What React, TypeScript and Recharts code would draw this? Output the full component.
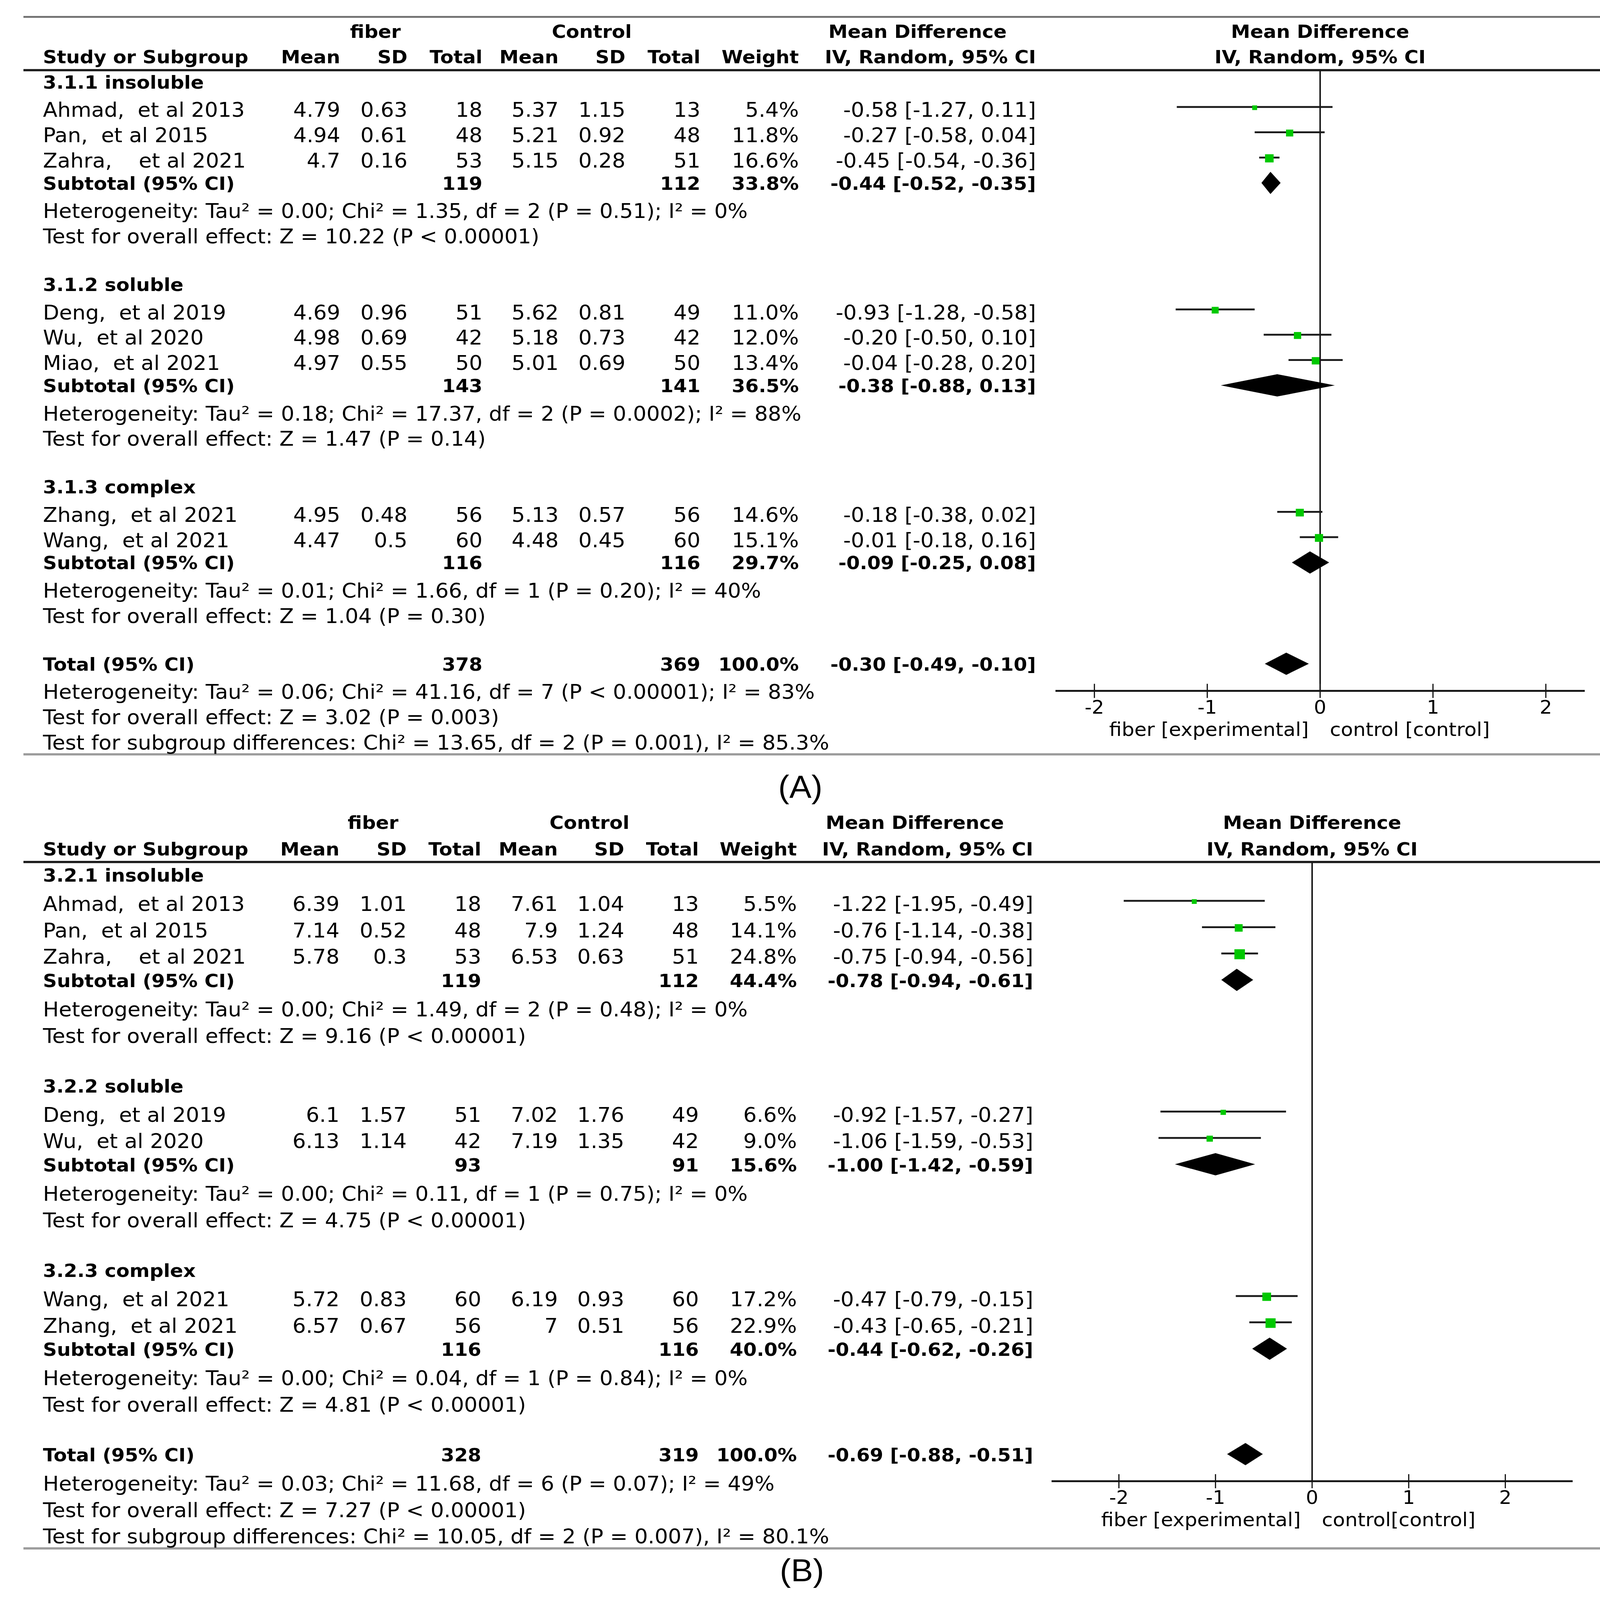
import React, { useEffect, useState } from 'react';
import { ComposedChart, XAxis, YAxis, Scatter, ErrorBar, Area, ReferenceLine } from 'recharts';

type Study = { name: string; m1: number; s1: number; n1: number; m2: number; s2: number; n2: number; w: number; md: number; lo: number; hi: number };
type Pooled = { n1: number; n2: number; w: number; md: number; lo: number; hi: number };

// ---------------- Panel A data ----------------
const A_GROUPS = ['3.1.1 insoluble', '3.1.2 soluble', '3.1.3 complex'];
const A_STUDIES: Study[][] = [
  [
    { name: 'Ahmad,  et al 2013', m1: 4.79, s1: 0.63, n1: 18, m2: 5.37, s2: 1.15, n2: 13, w: 5.4, md: -0.58, lo: -1.27, hi: 0.11 },
    { name: 'Pan,  et al 2015', m1: 4.94, s1: 0.61, n1: 48, m2: 5.21, s2: 0.92, n2: 48, w: 11.8, md: -0.27, lo: -0.58, hi: 0.04 },
    { name: 'Zahra,    et al 2021', m1: 4.7, s1: 0.16, n1: 53, m2: 5.15, s2: 0.28, n2: 51, w: 16.6, md: -0.45, lo: -0.54, hi: -0.36 },
  ],
  [
    { name: 'Deng,  et al 2019', m1: 4.69, s1: 0.96, n1: 51, m2: 5.62, s2: 0.81, n2: 49, w: 11.0, md: -0.93, lo: -1.28, hi: -0.58 },
    { name: 'Wu,  et al 2020', m1: 4.98, s1: 0.69, n1: 42, m2: 5.18, s2: 0.73, n2: 42, w: 12.0, md: -0.2, lo: -0.5, hi: 0.1 },
    { name: 'Miao,  et al 2021', m1: 4.97, s1: 0.55, n1: 50, m2: 5.01, s2: 0.69, n2: 50, w: 13.4, md: -0.04, lo: -0.28, hi: 0.2 },
  ],
  [
    { name: 'Zhang,  et al 2021', m1: 4.95, s1: 0.48, n1: 56, m2: 5.13, s2: 0.57, n2: 56, w: 14.6, md: -0.18, lo: -0.38, hi: 0.02 },
    { name: 'Wang,  et al 2021', m1: 4.47, s1: 0.5, n1: 60, m2: 4.48, s2: 0.45, n2: 60, w: 15.1, md: -0.01, lo: -0.18, hi: 0.16 },
  ],
];
const A_SUBTOTALS: Pooled[] = [
  { n1: 119, n2: 112, w: 33.8, md: -0.44, lo: -0.52, hi: -0.35 },
  { n1: 143, n2: 141, w: 36.5, md: -0.38, lo: -0.88, hi: 0.13 },
  { n1: 116, n2: 116, w: 29.7, md: -0.09, lo: -0.25, hi: 0.08 },
];
const A_HET = [
  'Heterogeneity: Tau² = 0.00; Chi² = 1.35, df = 2 (P = 0.51); I² = 0%',
  'Heterogeneity: Tau² = 0.18; Chi² = 17.37, df = 2 (P = 0.0002); I² = 88%',
  'Heterogeneity: Tau² = 0.01; Chi² = 1.66, df = 1 (P = 0.20); I² = 40%',
];
const A_EFFECT = [
  'Test for overall effect: Z = 10.22 (P < 0.00001)',
  'Test for overall effect: Z = 1.47 (P = 0.14)',
  'Test for overall effect: Z = 1.04 (P = 0.30)',
];
const A_TOTAL: Pooled = { n1: 378, n2: 369, w: 100.0, md: -0.3, lo: -0.49, hi: -0.1 };
const A_FOOT = [
  'Heterogeneity: Tau² = 0.06; Chi² = 41.16, df = 7 (P < 0.00001); I² = 83%',
  'Test for overall effect: Z = 3.02 (P = 0.003)',
  'Test for subgroup differences: Chi² = 13.65, df = 2 (P = 0.001), I² = 85.3%',
];

// ---------------- Panel B data ----------------
const B_GROUPS = ['3.2.1 insoluble', '3.2.2 soluble', '3.2.3 complex'];
const B_STUDIES: Study[][] = [
  [
    { name: 'Ahmad,  et al 2013', m1: 6.39, s1: 1.01, n1: 18, m2: 7.61, s2: 1.04, n2: 13, w: 5.5, md: -1.22, lo: -1.95, hi: -0.49 },
    { name: 'Pan,  et al 2015', m1: 7.14, s1: 0.52, n1: 48, m2: 7.9, s2: 1.24, n2: 48, w: 14.1, md: -0.76, lo: -1.14, hi: -0.38 },
    { name: 'Zahra,    et al 2021', m1: 5.78, s1: 0.3, n1: 53, m2: 6.53, s2: 0.63, n2: 51, w: 24.8, md: -0.75, lo: -0.94, hi: -0.56 },
  ],
  [
    { name: 'Deng,  et al 2019', m1: 6.1, s1: 1.57, n1: 51, m2: 7.02, s2: 1.76, n2: 49, w: 6.6, md: -0.92, lo: -1.57, hi: -0.27 },
    { name: 'Wu,  et al 2020', m1: 6.13, s1: 1.14, n1: 42, m2: 7.19, s2: 1.35, n2: 42, w: 9.0, md: -1.06, lo: -1.59, hi: -0.53 },
  ],
  [
    { name: 'Wang,  et al 2021', m1: 5.72, s1: 0.83, n1: 60, m2: 6.19, s2: 0.93, n2: 60, w: 17.2, md: -0.47, lo: -0.79, hi: -0.15 },
    { name: 'Zhang,  et al 2021', m1: 6.57, s1: 0.67, n1: 56, m2: 7, s2: 0.51, n2: 56, w: 22.9, md: -0.43, lo: -0.65, hi: -0.21 },
  ],
];
const B_SUBTOTALS: Pooled[] = [
  { n1: 119, n2: 112, w: 44.4, md: -0.78, lo: -0.94, hi: -0.61 },
  { n1: 93, n2: 91, w: 15.6, md: -1.0, lo: -1.42, hi: -0.59 },
  { n1: 116, n2: 116, w: 40.0, md: -0.44, lo: -0.62, hi: -0.26 },
];
const B_HET = [
  'Heterogeneity: Tau² = 0.00; Chi² = 1.49, df = 2 (P = 0.48); I² = 0%',
  'Heterogeneity: Tau² = 0.00; Chi² = 0.11, df = 1 (P = 0.75); I² = 0%',
  'Heterogeneity: Tau² = 0.00; Chi² = 0.04, df = 1 (P = 0.84); I² = 0%',
];
const B_EFFECT = [
  'Test for overall effect: Z = 9.16 (P < 0.00001)',
  'Test for overall effect: Z = 4.75 (P < 0.00001)',
  'Test for overall effect: Z = 4.81 (P < 0.00001)',
];
const B_TOTAL: Pooled = { n1: 328, n2: 319, w: 100.0, md: -0.69, lo: -0.88, hi: -0.51 };
const B_FOOT = [
  'Heterogeneity: Tau² = 0.03; Chi² = 11.68, df = 6 (P = 0.07); I² = 49%',
  'Test for overall effect: Z = 7.27 (P < 0.00001)',
  'Test for subgroup differences: Chi² = 10.05, df = 2 (P = 0.007), I² = 80.1%',
];

const TICKS = [-2, -1, 0, 1, 2];
const COL_HEADERS = ['Mean', 'SD', 'Total', 'Mean', 'SD', 'Total', 'Weight'];

// ---------------- layout / style ----------------
const W = 4123;
const H = 4310;
const FONT = '"DejaVu Sans", Verdana, sans-serif';
const REG = 54;
const BOLD = 49.5;
const GREEN = '#00c800';
const INK = '#000';

type PanelCfg = {
  key: string;
  groups: string[]; studies: Study[][]; subtotals: Pooled[]; het: string[]; effect: string[]; total: Pooled; foot: string[];
  chartTop: number; chartHeight: number; plotTop: number; plotBottom: number; plotLeft: number; plotRight: number; xMax: number;
  row0: number; pitch: number; regOff: number; boldOff: number; cols: number[];
  hdrFiber: number; hdrControl: number; hdrMd: number;
  topLine: number | null; underline: number; bottomLine: number;
  label: string; labelX: number; labelY: number; axisLeft: string; axisRight: string;
};

const PANELS: PanelCfg[] = [
  {
    key: 'A', groups: A_GROUPS, studies: A_STUDIES, subtotals: A_SUBTOTALS, het: A_HET, effect: A_EFFECT, total: A_TOTAL, foot: A_FOOT,
    chartTop: 0, chartHeight: 2100, plotTop: 189, plotBottom: 1861, plotLeft: 2702, plotRight: 4057, xMax: 2.345,
    row0: 220, pitch: 68.17, regOff: 26.7, boldOff: 18.4, cols: [871, 1043, 1235, 1430, 1601, 1793, 2045, 2652],
    hdrFiber: 961, hdrControl: 1515, hdrMd: 2349, topLine: 43, underline: 186, bottomLine: 2029,
    label: '(A)', labelX: 2049, labelY: 2149, axisLeft: 'fiber [experimental]', axisRight: 'control [control]',
  },
  {
    key: 'B', groups: B_GROUPS, studies: B_STUDIES, subtotals: B_SUBTOTALS, het: B_HET, effect: B_EFFECT, total: B_TOTAL, foot: B_FOOT,
    chartTop: 2150, chartHeight: 2160, plotTop: 2322, plotBottom: 3990, plotLeft: 2692, plotRight: 4026, xMax: 2.697,
    row0: 2355.6, pitch: 70.97, regOff: 27.7, boldOff: 19.5, cols: [869, 1041, 1232, 1428, 1598, 1789, 2040, 2645],
    hdrFiber: 955, hdrControl: 1509, hdrMd: 2342, topLine: null, underline: 2319, bottomLine: 4168,
    label: '(B)', labelX: 2053, labelY: 4259, axisLeft: 'fiber [experimental]', axisRight: 'control[control]',
  },
];

type Row =
  | { r: number; kind: 'title'; text: string }
  | { r: number; kind: 'study'; s: Study }
  | { r: number; kind: 'pooled'; label: string; p: Pooled }
  | { r: number; kind: 'note'; text: string };

function buildRows(p: PanelCfg): Row[] {
  const rows: Row[] = [];
  let r = 0;
  p.groups.forEach((g, gi) => {
    rows.push({ r: r++, kind: 'title', text: g });
    p.studies[gi].forEach((s) => rows.push({ r: r++, kind: 'study', s }));
    rows.push({ r: r++, kind: 'pooled', label: 'Subtotal (95% CI)', p: p.subtotals[gi] });
    rows.push({ r: r++, kind: 'note', text: p.het[gi] });
    rows.push({ r: r++, kind: 'note', text: p.effect[gi] });
    r++;
  });
  rows.push({ r: r++, kind: 'pooled', label: 'Total (95% CI)', p: p.total });
  p.foot.forEach((t) => rows.push({ r: r++, kind: 'note', text: t }));
  return rows;
}

const f2 = (v: number) => v.toFixed(2);
const ci = (md: number, lo: number, hi: number) => `${f2(md)} [${f2(lo)}, ${f2(hi)}]`;
const pct = (w: number) => `${w.toFixed(1)}%`;

const rowY = (p: PanelCfg, r: number) => p.row0 + p.pitch * r;
const zeroX = (p: PanelCfg) => p.plotLeft + ((0 + p.xMax) / (2 * p.xMax)) * (p.plotRight - p.plotLeft);

function Txt(props: { x: number; y: number; bold?: boolean; anchor?: 'start' | 'middle' | 'end'; children: React.ReactNode; size?: number }) {
  const { x, y, bold, anchor = 'start', children, size } = props;
  return (
    <text
      x={x}
      y={y}
      textAnchor={anchor}
      fontFamily={FONT}
      fontSize={size ?? (bold ? BOLD : REG)}
      fontWeight={bold ? 'bold' : 'normal'}
      fill={INK}
      style={{ whiteSpace: 'pre' }}
    >
      {children}
    </text>
  );
}

function PanelText({ p }: { p: PanelCfg }) {
  const rows = buildRows(p);
  const c = p.cols;
  const zx = zeroX(p);
  const h1 = rowY(p, -2) + p.boldOff;
  const h2 = rowY(p, -1) + p.boldOff;
  const out: React.ReactNode[] = [];
  rows.forEach((row, i) => {
    const yB = rowY(p, row.r) + p.boldOff;
    const yR = rowY(p, row.r) + p.regOff;
    if (row.kind === 'title') {
      out.push(<Txt key={`t${i}`} x={110} y={yB} bold>{row.text}</Txt>);
    } else if (row.kind === 'study') {
      const s = row.s;
      const vals = [String(s.m1), String(s.s1), String(s.n1), String(s.m2), String(s.s2), String(s.n2), pct(s.w), ci(s.md, s.lo, s.hi)];
      out.push(<Txt key={`n${i}`} x={110} y={yR}>{s.name}</Txt>);
      vals.forEach((v, k) => out.push(<Txt key={`v${i}-${k}`} x={c[k]} y={yR} anchor="end">{v}</Txt>));
    } else if (row.kind === 'pooled') {
      const q = row.p;
      out.push(<Txt key={`p${i}`} x={110} y={yB} bold>{row.label}</Txt>);
      out.push(<Txt key={`p${i}a`} x={c[2]} y={yB} bold anchor="end">{String(q.n1)}</Txt>);
      out.push(<Txt key={`p${i}b`} x={c[5]} y={yB} bold anchor="end">{String(q.n2)}</Txt>);
      out.push(<Txt key={`p${i}c`} x={c[6]} y={yB} bold anchor="end">{pct(q.w)}</Txt>);
      out.push(<Txt key={`p${i}d`} x={c[7]} y={yB} bold anchor="end">{ci(q.md, q.lo, q.hi)}</Txt>);
    } else {
      out.push(<Txt key={`o${i}`} x={110} y={yR}>{row.text}</Txt>);
    }
  });
  return (
    <g>
      {p.topLine !== null && <rect x={60} y={p.topLine} width={4045} height={5} fill="#707070" />}
      <rect x={60} y={p.underline} width={4045} height={6} fill="#1a1a1a" />
      <rect x={60} y={p.bottomLine} width={4045} height={6} fill="#9c9c9c" />
      <Txt x={p.hdrFiber} y={h1} bold anchor="middle">fiber</Txt>
      <Txt x={p.hdrControl} y={h1} bold anchor="middle">Control</Txt>
      <Txt x={p.hdrMd} y={h1} bold anchor="middle">Mean Difference</Txt>
      <Txt x={zx} y={h1} bold anchor="middle">Mean Difference</Txt>
      <Txt x={110} y={h2} bold>Study or Subgroup</Txt>
      {COL_HEADERS.map((t, k) => (
        <Txt key={`h${k}`} x={c[k]} y={h2} bold anchor="end">{t}</Txt>
      ))}
      <Txt x={c[7]} y={h2} bold anchor="end">IV, Random, 95% CI</Txt>
      <Txt x={zx} y={h2} bold anchor="middle">IV, Random, 95% CI</Txt>
      {out}
      <Txt x={zx - 29} y={p.plotBottom + 121} anchor="end" size={51}>{p.axisLeft}</Txt>
      <Txt x={zx + 25} y={p.plotBottom + 121} anchor="start" size={51}>{p.axisRight}</Txt>
      <text x={p.labelX} y={p.labelY} textAnchor="middle" fontFamily='"Liberation Sans", Arial, sans-serif' fontSize={85} fill={INK}>
        {p.label}
      </text>
    </g>
  );
}

const Square = (props: any) => {
  const { cx, cy, payload } = props;
  if (cx == null || cy == null) return null;
  const s = 5.4 * Math.sqrt(payload.w);
  return <rect x={cx - s / 2} y={cy - s / 2 + 2} width={s} height={s} fill={GREEN} />;
};

const AxisTick = (props: any) => {
  const { x, y, payload } = props;
  return (
    <g>
      <line x1={x} x2={x} y1={y - 19} y2={y + 19} stroke="#111" strokeWidth={3} />
      <text x={x} y={y + 61} textAnchor="middle" fontFamily={FONT} fontSize={50} fill={INK}>
        {String(payload.value)}
      </text>
    </g>
  );
};

function ForestChart({ p }: { p: PanelCfg }) {
  const rows = buildRows(p);
  const points = rows
    .filter((r): r is Extract<Row, { kind: 'study' }> => r.kind === 'study')
    .map((r) => ({ x: r.s.md, y: r.r, err: [r.s.md - r.s.lo, r.s.hi - r.s.md], w: r.s.w }));
  const half = 30 / p.pitch;
  const diamonds = rows
    .filter((r): r is Extract<Row, { kind: 'pooled' }> => r.kind === 'pooled')
    .map((r) => [
      { x: r.p.lo, band: [r.r, r.r] },
      { x: r.p.md, band: [r.r - half, r.r + half] },
      { x: r.p.hi, band: [r.r, r.r] },
    ]);
  const yDomain: [number, number] = [(p.plotTop - p.row0) / p.pitch, (p.plotBottom - p.row0) / p.pitch];
  const chartPlotTop = p.plotTop - p.chartTop;
  const axisHeight = p.chartHeight - (p.plotBottom - p.chartTop);
  return (
    <ComposedChart
      width={W}
      height={p.chartHeight}
      margin={{ top: chartPlotTop, left: p.plotLeft, right: W - p.plotRight, bottom: 0 }}
    >
      <XAxis
        type="number"
        dataKey="x"
        domain={[-p.xMax, p.xMax]}
        allowDataOverflow
        ticks={TICKS}
        interval={0}
        height={axisHeight}
        tickSize={0}
        tickMargin={0}
        tickLine={false}
        axisLine={{ stroke: '#111', strokeWidth: 5 }}
        tick={AxisTick}
      />
      <YAxis type="number" dataKey="y" domain={yDomain} reversed allowDataOverflow hide width={0} />
      <ReferenceLine x={0} stroke="#000" strokeWidth={3.5} ifOverflow="visible" />
      {diamonds.map((d, i) => (
        <Area
          key={`d${i}`}
          data={d}
          dataKey="band"
          type="linear"
          stroke="none"
          fill="#000"
          fillOpacity={1}
          dot={false}
          activeDot={false}
          isAnimationActive={false}
        />
      ))}
      <Scatter data={points} fill={GREEN} shape={Square} isAnimationActive={false}>
        <ErrorBar dataKey="err" direction="x" width={0} stroke="#1a1a1a" strokeWidth={5} />
      </Scatter>
    </ComposedChart>
  );
}

export default function App() {
  const [vh, setVh] = useState<number>(typeof window !== 'undefined' ? window.innerHeight || H : H);
  useEffect(() => {
    const f = () => setVh(window.innerHeight || H);
    f();
    window.addEventListener('resize', f);
    return () => window.removeEventListener('resize', f);
  }, []);
  const sy = vh > 0 && vh < H ? vh / H : 1;
  return (
    <div style={{ position: 'relative', width: W, height: H * sy, background: '#fff', overflow: 'hidden' }}>
      <style>{'html,body{margin:0;padding:0;background:#fff;overflow:hidden;}'}</style>
      <div
        style={{
          position: 'absolute',
          left: 0,
          top: 0,
          width: W,
          height: H,
          transform: `scaleY(${sy})`,
          transformOrigin: '0 0',
        }}
      >
        {PANELS.map((p) => (
          <div key={p.key} style={{ position: 'absolute', left: 0, top: p.chartTop, width: W, height: p.chartHeight }}>
            <ForestChart p={p} />
          </div>
        ))}
        <svg width={W} height={H} style={{ position: 'absolute', left: 0, top: 0, pointerEvents: 'none' }}>
          {PANELS.map((p) => (
            <PanelText key={p.key} p={p} />
          ))}
        </svg>
      </div>
    </div>
  );
}
